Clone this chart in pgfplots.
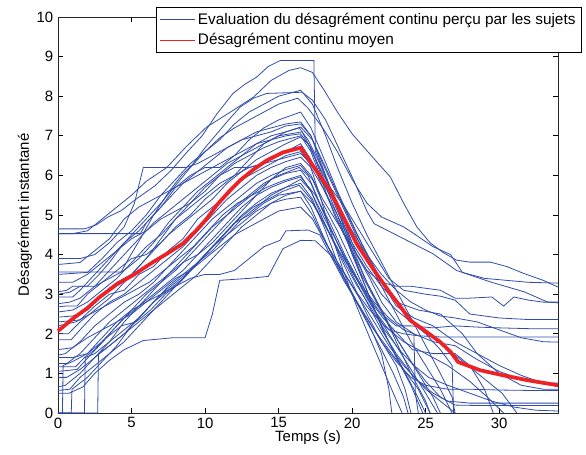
\documentclass[border=0pt]{standalone}
\usepackage{fontspec}
\setmainfont{Liberation Sans}
\usepackage{pgfplots}
\pgfplotsset{compat=1.18}
\definecolor{subjblue}{RGB}{48,76,170}
\definecolor{meanred}{RGB}{236,34,39}
\pgfplotsset{subj/.style={color=subjblue, line width=0.6pt, forget plot}}

\begin{document}
\begin{tikzpicture}
\begin{axis}[
    scale only axis,
    width=375pt, height=297pt,
    xmin=0, xmax=34, ymin=0, ymax=10,
    xtick={0,5,10,15,20,25,30},
    ytick={0,1,2,3,4,5,6,7,8,9,10},
    tick align=inside,
    major tick length=3.5pt,
    tick style={black, line width=0.5pt},
    axis line style={black!85, line width=0.7pt},
    font=\fontsize{11.2}{13}\selectfont,
    /pgf/number format/assume math mode=true,
    xlabel={Temps (s)},
    ylabel={Désagrément instantané},
    xlabel style={at={(rel axis cs:0.5,-0.063)}, anchor=center},
    ylabel style={at={(rel axis cs:-0.066,0.5)}, anchor=center},
    clip=false,
    legend cell align=left,
    legend style={at={(rel axis cs:1.048,1.025)}, anchor=north east,
        draw=black, line width=0.7pt, fill=white, inner xsep=2.5pt, inner ysep=2pt,
        row sep=1.5pt, font=\fontsize{11.5}{13}\selectfont},
    legend image code/.code={\draw[#1] (0cm,0cm) -- (0.9cm,0cm);},
]
% individual subjects (the first one carries the legend entry)
\addplot[color=subjblue, line width=0.6pt] coordinates {(0,4.65)(1.8,4.65)(2.6,4.75)(3.4,4.95)(4.3,5.11)(5.3,5.4)(6.6,5.74)(7.7,6.13)(8.8,6.6)(9.8,7.0)(10.8,7.55)(11.9,8.07)(12.7,8.3)(13.5,8.48)(14.3,8.75)(15.1,8.9)(17.4,8.9)(17.5,6.6)(18.3,5.9)(19.2,5.0)(20.1,4.1)(21.0,3.3)(22.0,2.6)(23.0,1.8)(24.0,1.0)(25.0,0.3)(25.3,0)};
\addlegendentry{Evaluation du désagrément continu perçu par les sujets}
\addplot[subj] coordinates {(0,4.53)(1.0,4.53)(2.0,4.6)(3.0,4.9)(4.0,5.2)(5.0,5.5)(6.0,5.85)(7.4,6.2)(8.7,6.72)(10.1,7.22)(11.9,7.64)(13.3,7.98)(14.5,8.4)(15.7,8.65)(16.5,8.72)(17.3,8.6)(18.1,8.15)(19,7.6)(20,7.05)(21.3,6.5)(22.6,5.96)(23.5,5.3)(24.4,4.7)(25.3,4.3)(26.2,4.05)(27.1,3.86)(28,3.81)(29.4,3.81)(30.5,3.7)(31.7,3.52)(33,3.35)(34,3.18)};
\addplot[subj] coordinates {(0,3.56)(4.3,3.56)(4.8,3.9)(5.6,4.4)(6.5,5.0)(7.6,5.62)(8.4,6.0)(9.2,6.3)(10.0,6.7)(10.8,7.05)(11.6,7.4)(12.4,7.73)(13.3,7.95)(14.2,8.07)(16.6,8.1)(17.3,7.9)(18.2,7.4)(19.2,6.6)(20.2,5.8)(21.0,5.1)(21.5,4.78)(23.3,4.44)(25.5,4.02)(27.1,3.6)(29.4,3.31)(31.7,3.06)(33.3,2.80)(34,2.78)};
\addplot[subj] coordinates {(0,3.06)(0.6,3.1)(1.0,3.2)(2.0,3.2)(2.8,3.5)(3.5,3.8)(4.3,4.2)(5.0,4.5)(6.0,4.9)(7.0,5.3)(8.0,5.75)(9.0,6.2)(10.0,6.6)(11.0,6.95)(12.0,7.2)(13.0,7.4)(14.0,7.6)(15.0,7.8)(16.3,7.95)(17.0,7.7)(18.0,7.2)(19.0,6.6)(20.0,5.9)(21.0,5.3)(22.0,4.95)(23.5,4.7)(24.2,4.53)(25.5,4.2)(26.7,4.0)(27.5,3.55)(29,3.4)(30.5,3.35)(32,3.3)(34,3.28)};
\addplot[subj] coordinates {(0,2.93)(1.0,2.93)(1.5,3.1)(2.5,3.5)(3.5,3.9)(4.5,4.3)(5.5,4.6)(6.5,5.0)(7.5,5.4)(8.5,5.8)(9.5,6.1)(10.5,6.4)(11.5,6.7)(12.5,6.9)(13.5,7.0)(14.5,7.1)(15.5,7.25)(16.5,7.3)(17.2,7.0)(18.0,6.3)(19.0,5.5)(20.0,4.7)(21.0,3.9)(22.0,3.2)(23.0,2.5)(24.0,1.8)(25.0,1.2)(26.0,0.6)(26.8,0)};
\addplot[subj] coordinates {(0,2.76)(0.8,2.8)(1.5,2.9)(2.5,3.2)(3.5,3.4)(4.5,3.6)(5.5,3.9)(6.5,4.3)(7.5,4.8)(8.5,5.2)(9.5,5.6)(10.5,5.9)(11.5,6.2)(12.5,6.5)(13.5,6.8)(14.5,7.0)(15.5,7.1)(16.4,7.2)(17.0,6.9)(17.8,6.3)(18.6,5.6)(19.5,4.8)(20.3,4.0)(21.2,3.4)(22.0,2.8)(23.0,2.3)(24.2,2.0)(25.5,1.8)(27,1.7)(28.5,1.35)(30,1.05)(31.5,0.85)(33,0.75)(34,0.76)};
\addplot[subj] coordinates {(0,2.68)(0.5,2.7)(1.3,2.7)(2.0,3.0)(3.0,3.3)(4.0,3.6)(5.0,3.9)(6.0,4.0)(7.0,4.3)(8.0,4.7)(9.0,5.0)(10.0,5.4)(11.0,5.7)(12.0,6.0)(13.0,6.4)(14.0,6.8)(15.0,7.0)(16.6,7.1)(17.3,6.6)(18.0,5.9)(19.0,5.0)(20.0,4.0)(21.0,3.1)(22.0,2.2)(23.0,1.4)(24.0,0.7)(24.8,0)};
\addplot[subj] coordinates {(0,2.42)(1.0,2.45)(2.0,2.6)(3.0,3.0)(4.0,3.3)(5.0,3.5)(6.0,3.9)(7.0,4.4)(8.0,4.9)(9.0,5.3)(10.0,5.6)(11.0,6.0)(12.0,6.3)(13.0,6.5)(14.0,6.7)(15.0,6.85)(16.5,7.0)(17.2,6.6)(18.0,5.8)(18.8,5.0)(19.7,4.3)(20.5,3.6)(21.5,2.9)(22.5,2.2)(23.5,1.6)(24.5,1.0)(25.5,0.4)(26.0,0)};
\addplot[subj] coordinates {(0,2.0)(0.7,2.0)(1.5,2.3)(2.5,2.6)(3.5,2.9)(4.5,3.3)(5.5,3.7)(6.5,4.1)(7.5,4.5)(8.5,4.8)(9.5,5.1)(10.5,5.4)(11.5,5.8)(12.5,6.1)(13.5,6.4)(14.5,6.6)(15.5,6.8)(16.5,6.97)(17.0,6.8)(17.8,6.2)(18.5,5.7)(19.5,5.2)(20.5,4.6)(21.5,4.0)(22.5,3.4)(23.5,3.1)(25,3.0)(26,2.95)(27,2.85)(28,2.5)(29,2.45)(30,2.4)(32,2.36)(34,2.36)};
\addplot[subj] coordinates {(0,1.85)(0.9,1.85)(1.5,2.1)(2.5,2.5)(3.5,2.8)(4.5,3.0)(5.5,3.3)(6.5,3.6)(7.5,3.9)(8.5,4.2)(9.5,4.6)(10.5,5.0)(11.5,5.4)(12.5,5.7)(13.5,6.0)(14.5,6.2)(15.5,6.35)(16.5,6.46)(17.2,6.2)(18.0,5.7)(19.0,5.0)(20.0,4.2)(21.0,3.6)(22.0,3.3)(23.0,3.2)(24,3.2)(25,3.15)(26,3.1)(27,2.9)(28,2.9)(29.5,2.93)(30.3,2.7)(31,2.93)(32,2.85)(33,2.8)(34,2.8)};
\addplot[subj] coordinates {(0,1.46)(0.5,1.5)(1.5,1.8)(2.5,2.2)(3.5,2.5)(4.5,2.8)(5.5,3.0)(6.5,3.3)(7.5,3.7)(8.5,4.1)(9.5,4.5)(10.5,4.9)(11.5,5.2)(12.5,5.5)(13.5,5.8)(14.5,6.0)(15.5,6.15)(16.5,6.25)(17.3,5.9)(18.0,5.3)(19.0,4.6)(20.0,3.8)(21.0,3.0)(22.0,2.5)(23.0,2.2)(24,2.2)(25.5,2.15)(27,2.2)(28.5,2.17)(30,2.15)(32,2.13)(34,2.13)};
\addplot[subj] coordinates {(0,1.25)(0.6,1.25)(1.5,1.5)(2.5,1.9)(3.5,2.3)(4.5,2.6)(5.5,2.9)(6.5,3.2)(7.5,3.5)(8.5,3.9)(9.5,4.3)(10.5,4.7)(11.5,5.0)(12.5,5.3)(13.5,5.6)(14.5,5.9)(15.5,6.05)(16.5,6.13)(17.2,5.8)(18.0,5.1)(19.0,4.3)(20.0,3.6)(21.0,2.9)(22.0,2.3)(23.0,1.7)(24.0,1.1)(25.0,0.5)(25.8,0)};
\addplot[subj] coordinates {(0,1.17)(1.2,1.17)(1.8,1.4)(2.5,1.6)(3.5,2.0)(4.5,2.4)(5.5,2.7)(6.5,3.0)(7.5,3.3)(8.5,3.6)(9.5,4.0)(10.5,4.4)(11.5,4.8)(12.5,5.2)(13.5,5.5)(14.5,5.7)(15.5,5.85)(16.5,5.96)(17.5,5.5)(18.5,4.8)(19.5,4.0)(20.5,3.3)(21.5,2.6)(22.5,2.1)(23.5,2.0)(24.5,1.95)(26,1.92)(28,1.92)(30,1.92)(34,1.92)};
\addplot[subj] coordinates {(0,0.66)(0.5,0.7)(1.5,1.0)(2.5,1.4)(3.5,1.8)(4.5,2.1)(5.5,2.4)(6.5,2.8)(7.5,3.1)(8.5,3.4)(9.5,3.8)(10.5,4.2)(11.5,4.6)(12.5,5.0)(13.5,5.3)(14.5,5.55)(15.5,5.7)(16.5,5.8)(17.3,5.4)(18.2,4.6)(19.0,3.8)(20.0,3.0)(21.0,2.3)(22.0,1.6)(22.8,1.0)(23.5,0.4)(23.8,0)};
\addplot[subj] coordinates {(0,0.57)(0.8,0.6)(1.5,0.9)(2.5,1.2)(3.5,1.5)(4.5,1.8)(5.5,2.2)(6.5,2.6)(7.5,3.0)(8.5,3.4)(9.5,3.8)(10.5,4.2)(11.5,4.5)(12.5,4.8)(13.5,5.1)(14.5,5.3)(15.5,5.4)(16.5,5.45)(17.3,5.0)(18.2,4.3)(19.2,3.6)(20.2,2.9)(21.2,2.2)(22.0,1.5)(22.5,0.6)(22.7,0)};
\addplot[subj] coordinates {(0,0)(0.3,0)(0.35,1.2)(1.0,1.3)(2.0,1.5)(3.0,1.8)(4.0,2.2)(5.0,2.6)(6.0,3.0)(7.0,3.3)(8.0,3.6)(9.0,4.0)(10.0,4.4)(11.0,4.8)(12.0,5.2)(13.0,5.5)(14.0,5.8)(15.0,6.0)(16.4,6.2)(17.0,6.0)(17.8,5.3)(18.6,4.6)(19.5,3.9)(20.5,3.3)(21.5,2.8)(22.5,2.4)(23.5,2.1)(24.2,2.0)(24.3,0.5)(24.5,0)};
\addplot[subj] coordinates {(0,0)(1.8,0)(1.85,1.4)(2.5,1.5)(3.5,1.8)(4.5,2.3)(5.5,2.7)(6.5,3.1)(7.5,3.5)(8.5,3.8)(9.5,4.0)(10.5,4.3)(11.5,4.7)(12.5,5.1)(13.5,5.5)(14.5,5.9)(15.5,6.2)(16.5,6.3)(17.2,6.0)(18.0,5.4)(19.0,4.8)(20.0,4.2)(21.0,3.6)(22.0,3.0)(23.0,2.6)(24.0,2.3)(25.0,2.0)(26.0,1.6)(26.8,1.2)(26.9,0)};
\addplot[subj] coordinates {(0,0)(2.7,0)(2.75,1.5)(3.5,1.7)(4.5,2.0)(5.5,2.4)(6.5,2.8)(7.5,3.2)(8.5,3.5)(9.5,3.8)(10.5,4.1)(11.5,4.5)(12.5,4.9)(13.5,5.2)(14.5,5.5)(15.5,5.7)(16.5,5.9)(17.2,5.6)(18.0,5.0)(19.0,4.3)(20.0,3.5)(21.0,2.8)(22.0,2.1)(23.0,1.5)(24.0,1.0)(25.0,0.6)(26.0,0.3)(27.0,0)};
\addplot[subj] coordinates {(0,0)(0.9,0)(0.95,0.6)(2.0,0.9)(3.0,1.3)(4.0,1.7)(5.0,2.2)(6.0,2.6)(7.0,3.0)(8.0,3.3)(9.0,3.6)(10.0,4.0)(11.0,4.4)(12.0,4.8)(13.0,5.0)(14.0,5.3)(15.0,5.5)(16.5,5.6)(17.2,5.2)(18.0,4.5)(19.0,3.7)(20.0,3.0)(21.0,2.4)(22.0,1.8)(23.0,1.3)(24.0,0.9)(25.0,0.7)(26.5,0.6)(28,0.6)(30,0.58)(32,0.57)(34,0.57)};
\addplot[subj] coordinates {(0,0.5)(0.75,0.5)(1.7,0.66)(2.5,1.0)(3.5,1.33)(4.5,1.6)(5.8,1.83)(7.8,1.9)(10.0,1.9)(10.5,2.5)(11.0,3.35)(13.0,3.4)(14.3,3.45)(15.3,4.15)(16.5,4.36)(17.5,4.35)(18.5,4.0)(19.5,3.5)(20.5,2.9)(21.5,2.3)(22.5,1.7)(23.5,1.2)(24.5,0.8)(25.5,0.5)(26.5,0.3)(28,0.25)(30,0.25)(32,0.25)(34,0.25)};
\addplot[subj] coordinates {(0,1.4)(1.0,1.4)(2.0,1.5)(3.0,1.9)(4.0,2.3)(5.0,2.6)(6.0,2.8)(7.0,3.0)(8.0,3.2)(9.0,3.4)(10.0,3.5)(11.0,3.5)(12.0,3.6)(13.0,3.9)(14.0,4.2)(15.1,4.36)(15.5,4.6)(17.0,4.62)(17.8,4.5)(18.5,4.0)(19.5,3.3)(20.5,2.7)(21.5,2.1)(22.5,1.6)(23.5,1.1)(24.5,0.6)(25.3,0)};
\addplot[subj] coordinates {(0,3.3)(1.0,3.3)(2.0,3.5)(3.0,3.8)(4.0,4.1)(5.0,4.4)(6.0,4.6)(7.0,4.9)(8.0,5.1)(9.0,5.3)(10.0,5.7)(11.0,6.0)(12.0,6.2)(13.0,6.2)(14.0,6.3)(15.0,6.5)(16.5,6.8)(17.2,6.4)(18.0,5.7)(19.0,4.9)(20.0,4.1)(21.0,3.3)(22.0,2.6)(23.0,1.9)(24.0,1.3)(25.0,0.8)(26.0,0.4)(27,0.2)(28.5,0.19)(34,0.19)};
\addplot[subj] coordinates {(0,4.53)(5.6,4.53)(6.0,4.8)(7.0,5.2)(8.0,5.7)(9.0,6.0)(10.0,6.2)(11.0,6.2)(12.0,6.5)(13.0,6.9)(14.0,7.2)(15.0,7.4)(16.5,7.6)(17.2,7.2)(18.0,6.5)(19.0,5.6)(20.0,4.8)(21.0,4.0)(22.0,3.3)(23.0,2.7)(24.2,2.4)(25.5,2.2)(27,1.8)(28.5,1.5)(30,1.2)(31.5,0.95)(33,0.75)(34,0.68)};
\addplot[subj] coordinates {(0,3.9)(1.5,3.9)(2.5,4.0)(3.5,4.3)(4.5,4.7)(5.2,5.3)(5.8,6.2)(8.7,6.2)(9.5,6.3)(10.5,6.5)(11.5,6.7)(12.5,6.9)(13.5,7.1)(14.5,7.2)(15.5,7.3)(16.5,7.35)(17.2,7.0)(18.0,6.2)(18.8,5.4)(19.6,4.5)(20.5,3.6)(21.3,2.8)(22.2,2.0)(23.2,1.3)(24.2,0.6)(25.0,0)};
\addplot[subj] coordinates {(0,2.2)(1.2,2.3)(2.2,2.5)(3.2,2.7)(4.2,2.9)(5.2,3.1)(6.2,3.3)(7.2,3.6)(8.2,3.9)(9.2,4.2)(10.2,4.6)(11.2,5.0)(12.2,5.3)(13.2,5.5)(14.2,5.7)(15.2,5.85)(16.5,6.0)(17.2,5.6)(18.0,4.9)(19.0,4.1)(20.0,3.3)(21.0,2.5)(22.0,1.8)(23.0,1.2)(23.6,0.6)(24.0,0)};
\addplot[subj] coordinates {(0,2.55)(1.0,2.6)(2.0,2.8)(3.0,3.1)(4.0,3.4)(5.0,3.8)(6.0,4.2)(7.0,4.5)(8.0,4.9)(9.0,5.2)(10.0,5.5)(11.0,5.8)(12.0,6.0)(13.0,6.2)(14.0,6.3)(15.0,6.4)(16.5,6.55)(17.2,6.3)(18.0,5.8)(19.0,5.2)(20.0,4.6)(21.0,4.0)(22.0,3.5)(23.0,3.1)(24.0,2.8)(25.0,2.6)(26.0,2.45)(27.0,2.4)(28.5,2.3)(30.0,2.1)(31.5,1.9)(33,1.8)(34,1.79)};
\addplot[subj] coordinates {(0,1.6)(1.0,1.65)(2.0,1.9)(3.0,2.1)(4.0,2.3)(5.0,2.5)(6.0,2.8)(7.0,3.1)(8.0,3.4)(9.0,3.6)(10.0,3.9)(11.0,4.2)(12.0,4.5)(13.0,4.7)(14.0,4.9)(15.0,5.1)(16.5,5.2)(17.3,4.9)(18.2,4.3)(19.2,3.7)(20.2,3.1)(21.2,2.6)(22.2,2.2)(23.5,1.8)(25,1.5)(26.5,1.2)(28,0.8)(29.2,0.4)(30.3,0)};
\addplot[subj] coordinates {(0,3.0)(0.8,3.05)(1.5,3.2)(2.5,3.2)(3.5,3.6)(4.5,4.0)(5.5,4.4)(6.5,4.8)(7.5,5.1)(8.5,5.4)(9.5,5.7)(10.5,6.0)(11.5,6.3)(12.5,6.5)(13.5,6.7)(14.5,6.9)(15.5,7.1)(16.5,7.22)(17.3,6.9)(18.2,6.2)(19.2,5.4)(20.2,4.6)(21.2,3.9)(22.2,3.2)(23.2,2.7)(24.2,2.3)(25.2,2.0)(26.2,1.7)(27.2,1.4)(28.2,1.1)(29.2,0.8)(30.2,0.5)(31.2,0)};
\addplot[subj] coordinates {(0,3.5)(2.0,3.55)(3.0,3.9)(4.0,4.3)(5.0,4.6)(6.0,5.0)(7.0,5.5)(8.0,5.9)(9.0,6.3)(10.0,6.6)(11.0,6.9)(12.0,7.3)(13.0,7.6)(14.0,7.8)(15.0,8.0)(16.5,8.15)(17.3,7.8)(18.2,7.0)(19.0,6.2)(20.0,5.3)(21.0,4.5)(22.0,3.8)(23.0,3.1)(24.0,2.4)(25.0,1.7)(26.0,1.0)(26.8,0.4)(27.0,0)};
\addplot[subj] coordinates {(0,0.9)(0.6,0.9)(1.5,1.1)(2.5,1.4)(3.5,1.7)(4.5,2.0)(5.5,2.3)(6.5,2.6)(7.5,2.9)(8.5,3.2)(9.5,3.5)(10.5,3.9)(11.5,4.3)(12.5,4.7)(13.5,5.0)(14.5,5.3)(15.5,5.5)(16.5,5.6)(17.3,5.3)(18.2,4.7)(19.2,4.0)(20.2,3.3)(21.2,2.7)(22.2,2.1)(23.2,1.6)(24.2,1.2)(25.2,0.9)(26.5,0.7)(28,0.5)(29.5,0.3)(31,0.15)(32.5,0.07)(34,0.05)};
\addplot[subj] coordinates {(0,2.3)(1.5,2.35)(2.5,2.7)(3.5,3.0)(4.5,3.1)(5.5,3.5)(6.5,3.7)(7.5,4.1)(8.5,4.4)(9.5,4.9)(10.5,5.2)(11.5,5.5)(12.5,5.9)(13.5,6.1)(14.5,6.3)(15.5,6.5)(16.5,6.6)(17.1,6.3)(17.8,5.5)(18.6,4.5)(19.4,3.6)(20.3,2.7)(21.2,1.9)(22.0,1.2)(22.8,0.5)(23.4,0)};
\addplot[subj] coordinates {(0,1.05)(1.3,1.1)(2.3,1.5)(3.3,1.9)(4.3,2.2)(5.3,2.3)(6.3,2.6)(7.3,3.0)(8.3,3.3)(9.3,3.7)(10.3,4.1)(11.3,4.5)(12.3,4.9)(13.3,5.2)(14.3,5.4)(15.3,5.6)(16.4,5.75)(17.2,5.4)(18.1,4.8)(19.1,4.1)(20.1,3.5)(21.1,2.9)(22.1,2.4)(23.1,2.0)(24.1,1.6)(25.5,1.5)(27,1.5)(28,1.2)(29,0.6)(29.6,0)};
\addplot[subj] coordinates {(0,3.75)(1.5,3.8)(2.5,4.1)(3.5,4.4)(4.5,4.9)(5.5,5.2)(6.5,5.4)(7.5,5.6)(8.5,5.8)(9.5,6.0)(10.5,6.2)(11.5,6.4)(12.5,6.6)(13.5,6.8)(14.5,6.9)(15.5,7.0)(16.5,7.05)(17.2,6.7)(18.1,5.9)(19.0,5.1)(20.0,4.3)(21.0,3.7)(22.0,3.2)(23.0,2.8)(24.5,2.6)(26,2.5)(27.5,2.0)(28.5,1.5)(30,1.0)(31.5,0.7)(33,0.6)(34,0.6)};

% mean curve
\addplot[color=meanred, line width=2.8pt, legend image post style={line width=1pt}] coordinates {(0,2.07)(1,2.38)(2,2.65)(2.84,2.93)(4,3.25)(5.1,3.48)(5.8,3.65)(6.5,3.82)(7.4,4.02)(8.5,4.28)(9.4,4.61)(10.1,4.9)(10.8,5.25)(11.6,5.58)(12.4,5.88)(13.3,6.15)(14.2,6.38)(15.3,6.58)(16.5,6.7)(17.4,6.21)(18.5,5.62)(19.4,4.95)(20.3,4.28)(21.5,3.6)(22.6,3.02)(23.3,2.68)(23.95,2.34)(24.9,2.09)(26.0,1.79)(26.7,1.54)(27.2,1.29)(28.7,1.08)(30.3,0.95)(31.9,0.83)(34,0.70)};
\addlegendentry{Désagrément continu moyen}
\end{axis}
\pgfresetboundingbox
\path (current axis.south west) ++(-43.5pt,-30.75pt) rectangle ++(439.5pt,340.5pt);
\end{tikzpicture}
\end{document}
